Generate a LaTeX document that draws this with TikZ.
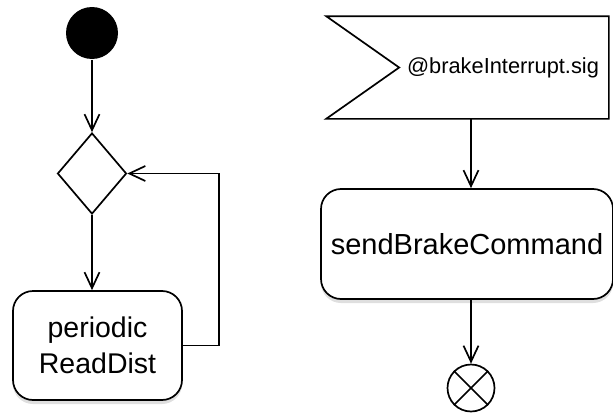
\documentclass[tikz,border=0pt]{standalone}
\usepackage{fontspec}
\setmainfont{Liberation Sans}
\usetikzlibrary{arrows.meta,shapes.geometric,shadows}

\tikzset{
  flow/.style={-{Straight Barb[length=16pt,width=15pt]}},
  action/.style={draw,fill=white,rounded corners=20pt,align=center,
    minimum width=169pt,minimum height=109pt,
    font=\fontsize{28.5}{36}\selectfont,
    drop shadow={opacity=0.25,shadow xshift=0pt,shadow yshift=-4pt}},
}

\begin{document}
\begin{tikzpicture}[x=1pt,y=-1pt,line width=1.7pt]
  \useasboundingbox (0,0) rectangle (613,415);
  % left: periodic reading loop
  \node[circle,fill,minimum size=52pt,inner sep=0] (start) at (92,33) {};
  \node[diamond,draw,minimum width=69pt,minimum height=81pt,inner sep=0] (dec) at (92,173.5) {};
  \node[action] (read) at (97.5,345.5) {periodic\\ReadDist};
  \draw[flow] (start) -- (dec);
  \draw[flow] (dec) -- (dec |- read.north);
  \draw[flow] (read.east) -- ++(36,0) |- (dec.east);

  % right: interrupt handling
  \node[minimum width=281pt,minimum height=101pt,inner sep=0] (sig) at (467.5,67.5) {};
  \draw (sig.north west) -- (sig.north east) -- (sig.south east) -- (sig.south west)
    -- ([xshift=73pt]sig.west) -- cycle;
  \node[font=\fontsize{21.8}{26}\selectfont] (siglabel) at (503,68) {@brakeInterrupt.sig};
  \node[action,minimum width=292pt,minimum height=110pt,font=\fontsize{29}{36}\selectfont]
    (send) at (467,244) {sendBrakeCommand};
  \node[draw,circle,minimum size=47pt,inner sep=0] (fin) at (471,388) {};
  \draw (fin.north west) -- (fin.south east) (fin.north east) -- (fin.south west);
  \draw[flow] (sig.south -| fin) -- (send.north -| fin);
  \draw[flow] (send.south -| fin) -- (fin);
\end{tikzpicture}
\end{document}
